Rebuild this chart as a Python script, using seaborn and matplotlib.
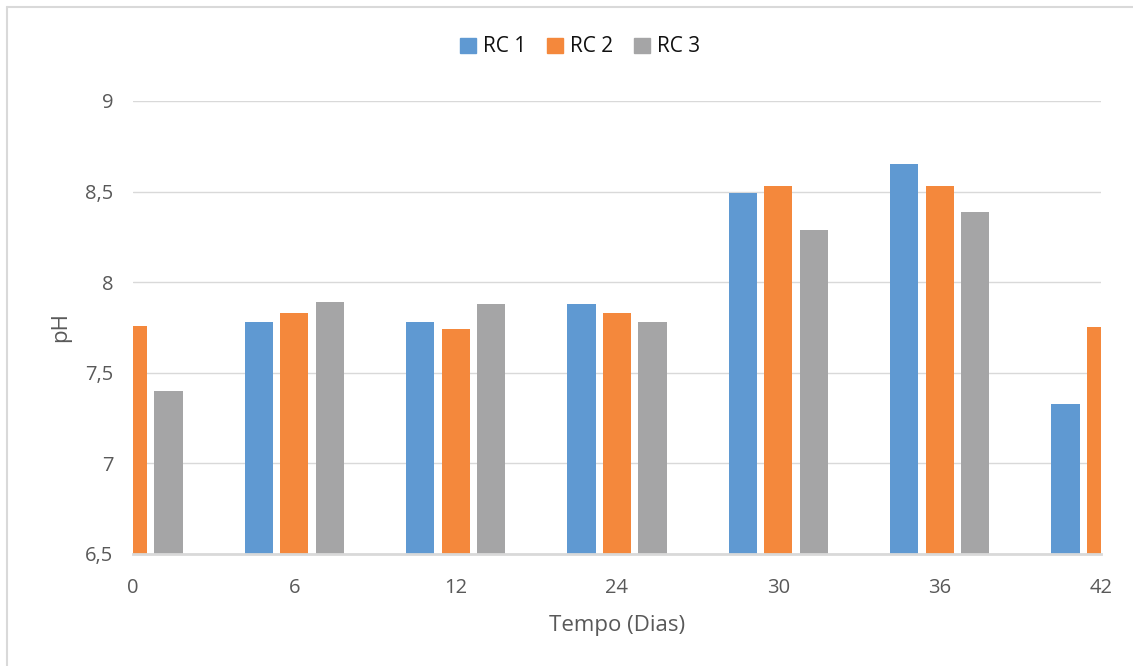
import numpy as np
import pandas as pd
import matplotlib
matplotlib.use("Agg")
import matplotlib.pyplot as plt
from matplotlib.ticker import FuncFormatter
from matplotlib.lines import Line2D
import seaborn as sns

# pH por reator ao longo do tempo (nan = fora da área visível)
dias = ["0", "6", "12", "24", "30", "36", "42"]
rc1 = [np.nan, 7.78, 7.78, 7.88, 8.49, 8.65, 7.33]
rc2 = [7.76, 7.83, 7.74, 7.83, 8.53, 8.53, 7.75]
rc3 = [7.40, 7.89, 7.88, 7.78, 8.29, 8.39, np.nan]
series = ["RC 1", "RC 2", "RC 3"]
cores = ["#5F99D2", "#F4883C", "#A5A5A6"]

df = pd.DataFrame({"Tempo": dias * 3,
                   "pH": rc1 + rc2 + rc3,
                   "Serie": [s for s in series for _ in dias]})

sns.set_style("white")
plt.rcParams["font.family"] = ["Open Sans", "DejaVu Sans"]

fig = plt.figure(figsize=(11.33, 6.66), dpi=100)
ax = fig.add_axes([133 / 1133, 1 - 554 / 666, 968 / 1133, 453 / 666])

sns.barplot(data=df, x="Tempo", y="pH", hue="Serie", order=dias, hue_order=series,
            palette=cores, width=0.66, gap=0.21, linewidth=0, saturation=1,
            errorbar=None, ax=ax, legend=False)

ax.set_xlim(0, 6)
ax.set_ylim(6.5, 9)
ax.set_yticks([6.5, 7, 7.5, 8, 8.5, 9])
ax.yaxis.set_major_formatter(FuncFormatter(lambda v, p: f"{v:g}".replace(".", ",")))
ax.grid(axis="y", color="#D9D9D9", linewidth=1)
ax.set_axisbelow(True)
for s in ["top", "right", "left"]:
    ax.spines[s].set_visible(False)
ax.spines["bottom"].set_color("#D9D9D9")
ax.spines["bottom"].set_linewidth(2)
ax.tick_params(axis="both", length=0, labelsize=14.5, labelcolor="#595959")
ax.tick_params(axis="y", pad=14)
ax.tick_params(axis="x", pad=17)

ax.set_xlabel("Tempo (Dias)", fontsize=16, color="#595959")
ax.set_ylabel("pH", fontsize=16, color="#595959")
ax.xaxis.set_label_coords(0.5, -0.135)
ax.yaxis.set_label_coords(-0.064, 0.5)

handles = [plt.Rectangle((0, 0), 1, 1, color=c) for c in cores]
fig.legend(handles, series, loc="center", bbox_to_anchor=(580 / 1133, 1 - 47 / 666),
           ncol=3, frameon=False, fontsize=15, handlelength=0.75, handleheight=0.75,
           handletextpad=0.35, columnspacing=1.0, labelcolor="#111111")

# moldura do gráfico
fig.add_artist(Line2D([7 / 1133, 7 / 1133], [0, 1 - 7 / 666], transform=fig.transFigure,
                      color="#D9D9D9", linewidth=1.5))
fig.add_artist(Line2D([7 / 1133, 1], [1 - 7 / 666, 1 - 7 / 666], transform=fig.transFigure,
                      color="#D9D9D9", linewidth=1.5))

fig.savefig("out.png", dpi=100)
